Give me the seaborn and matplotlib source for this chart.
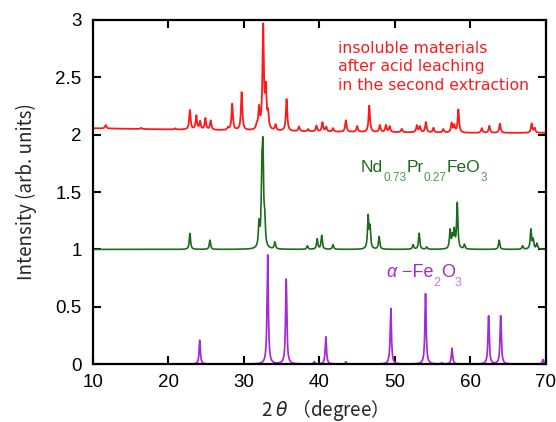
import numpy as np
import pandas as pd
import matplotlib
matplotlib.use("Agg")
import matplotlib.pyplot as plt
import seaborn as sns
from matplotlib.ticker import MultipleLocator, FuncFormatter

# --- peak tables (2theta in degree, relative intensity) ---
# residue after acid leaching (offset trace)
res_pos = [11.7, 16.4, 20.9, 22.85, 23.7, 24.2, 24.9, 25.6, 27.9, 28.45, 29.7,
           31.7, 32.0, 32.55, 32.9, 33.2, 34.2, 35.65, 37.3, 38.5, 39.6, 40.4,
           40.9, 41.8, 43.5, 45.0, 46.6, 48.0, 48.8, 49.3, 50.9, 52.9, 53.3,
           54.1, 55.1, 56.4, 57.5, 57.85, 58.4, 61.5, 62.5, 63.9, 68.1, 68.5]
res_int = [0.03, 0.01, 0.01, 0.17, 0.12, 0.07, 0.10, 0.08, 0.02, 0.23, 0.33,
           0.04, 0.18, 0.90, 0.33, 0.13, 0.05, 0.28, 0.04, 0.02, 0.05, 0.08,
           0.04, 0.03, 0.10, 0.05, 0.23, 0.06, 0.06, 0.05, 0.03, 0.06, 0.05,
           0.09, 0.04, 0.03, 0.08, 0.06, 0.20, 0.04, 0.06, 0.08, 0.08, 0.04]
res_base_x = [10, 20, 30, 40, 50, 60, 70]
res_base_y = [2.055, 2.045, 2.035, 2.025, 2.02, 2.015, 2.015]

# Nd0.73Pr0.27FeO3 reference pattern
npf_pos = [22.85, 25.5, 32.0, 32.38, 32.52, 32.75, 34.1, 38.4, 39.7, 40.3,
           41.8, 46.45, 46.7, 47.9, 52.4, 53.2, 54.2, 57.3, 57.6, 57.85,
           58.25, 59.2, 63.8, 66.9, 68.0, 68.3, 68.8]
npf_int = [0.14, 0.08, 0.20, 0.55, 0.75, 0.20, 0.06, 0.03, 0.09, 0.12,
           0.04, 0.28, 0.18, 0.11, 0.04, 0.14, 0.02, 0.16, 0.10, 0.15,
           0.40, 0.04, 0.08, 0.03, 0.17, 0.08, 0.05]

# alpha-Fe2O3 reference pattern
hem_pos = [24.15, 33.15, 35.6, 39.3, 40.85, 43.5, 49.45, 54.05, 56.2, 57.55,
           62.4, 64.0, 69.6]
hem_int = [0.21, 0.96, 0.74, 0.02, 0.24, 0.02, 0.49, 0.62, 0.01, 0.14,
           0.42, 0.42, 0.04]

offsets = {"residue": 0.0, "npf": 1.0, "hem": 0.0}
colors = {"residue": "#ff1a1a", "npf": "#1d6b1d", "hem": "#a22ad8"}
sub_colors = {"npf": "#4f9a4f", "hem": "#c47ae8"}

two_theta = np.arange(10.0, 70.0001, 0.02)


def profile(pos, inten, fwhm):
    g = fwhm / 2.0
    y = np.zeros_like(two_theta)
    for p, a in zip(pos, inten):
        y += a * g**2 / ((two_theta - p) ** 2 + g**2)
    return y


res_y = np.interp(two_theta, res_base_x, res_base_y) + profile(res_pos, res_int, 0.22)
npf_y = offsets["npf"] + profile(npf_pos, npf_int, 0.20)
hem_y = profile(hem_pos, hem_int, 0.20)

df = pd.concat([
    pd.DataFrame({"2theta": two_theta, "I": res_y, "s": "residue"}),
    pd.DataFrame({"2theta": two_theta, "I": npf_y, "s": "npf"}),
    pd.DataFrame({"2theta": two_theta, "I": hem_y, "s": "hem"}),
])

sns.set_style("ticks")
plt.rcParams["font.family"] = ["Liberation Sans", "DejaVu Sans"]
GOTHIC = ["Noto Sans CJK JP", "DejaVu Sans"]

fig = plt.figure(figsize=(5.56, 4.22), dpi=100)
ax = fig.add_axes([0.167, 0.137, 0.815, 0.816])

for key, lw in (("hem", 1.25), ("npf", 1.2), ("residue", 1.3)):
    sns.lineplot(data=df[df["s"] == key], x="2theta", y="I", color=colors[key],
                 lw=lw, ax=ax, legend=False, estimator=None, sort=False)

ax.set_xlim(10, 70)
ax.set_ylim(0, 3)
ax.xaxis.set_major_locator(MultipleLocator(10))
ax.yaxis.set_major_locator(MultipleLocator(0.5))
ax.yaxis.set_major_formatter(FuncFormatter(lambda v, _: f"{v:g}"))
ax.tick_params(direction="in", length=6, width=1.5, top=True, right=True,
               labelsize=13.5, colors="black")
ax.tick_params(axis="y", pad=8)
ax.tick_params(axis="x", pad=7)
for sp in ax.spines.values():
    sp.set_linewidth(1.6)
    sp.set_color("black")

ax.set_xlabel(r"2 $\mathit{\theta}$ （degree）", fontsize=13.5, family=GOTHIC)
ax.xaxis.set_label_coords(0.50, -0.095)
ax.set_ylabel("Intensity (arb. units)", fontsize=13.5, family=GOTHIC)
ax.yaxis.set_label_coords(-0.124, 0.5)

ax.text(42.4, 2.59, "insoluble materials\nafter acid leaching\nin the second extraction",
        color=colors["residue"], fontsize=11.3, family="DejaVu Sans",
        va="center", ha="left", linespacing=1.3)


def chem_label(x, y, parts, color, subcolor, size, subsize):
    """Formula text with subscripts hanging below the baseline."""
    main = ax.text(x, y, parts[0][0], color=color, fontsize=size,
                   va="center", ha="left", style=parts[0][2])
    last = main
    for text, is_sub, style in parts[1:]:
        if is_sub:
            last = ax.annotate(text, xy=(1, 0.2), xycoords=(last, main),
                               xytext=(0.2, 0), textcoords="offset points",
                               va="top", ha="left", color=subcolor,
                               fontsize=subsize, style=style)
        else:
            last = ax.annotate(text, xy=(1, 0), xycoords=(last, main),
                               va="bottom", ha="left", color=color,
                               fontsize=size, style=style)


chem_label(45.5, 1.71,
           [("Nd", False, "normal"), ("0.73", True, "normal"),
            ("Pr", False, "normal"), ("0.27", True, "normal"),
            ("FeO", False, "normal"), ("3", True, "normal")],
           colors["npf"], sub_colors["npf"], 12.5, 8.5)
chem_label(48.9, 0.80,
           [("α", False, "italic"), (" −Fe", False, "normal"),
            ("2", True, "normal"), ("O", False, "normal"),
            ("3", True, "normal")],
           colors["hem"], sub_colors["hem"], 13, 9)

fig.savefig("out.png", dpi=100)
